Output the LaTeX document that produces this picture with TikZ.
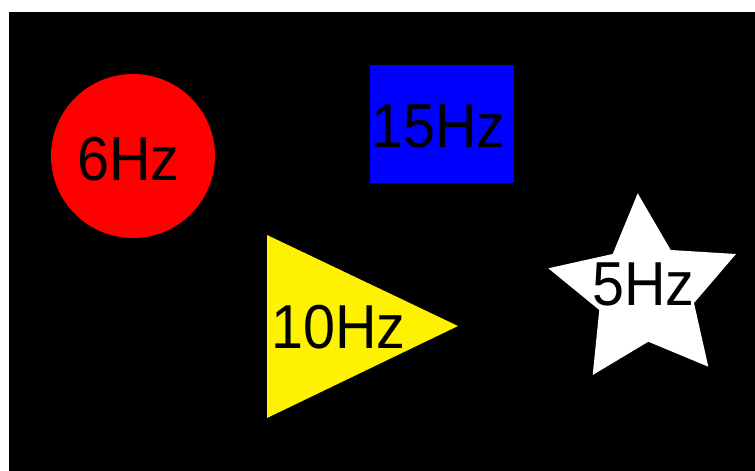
\documentclass[tikz,border=0pt]{standalone}
\usepackage{fontspec}
\setmainfont{Liberation Sans}
\newcommand{\hzlbl}[1]{\scalebox{1}[1.08]{#1}}
\begin{document}
\begin{tikzpicture}[x=1pt,y=-1pt,
  lbl/.style={anchor=base west,inner sep=0pt,font=\fontsize{57.5}{58}\selectfont,text=black}]
\useasboundingbox (0,0) rectangle (755,471);
\fill[white] (0,0) rectangle (755,471);
\fill[black] (9,12) rectangle (755,471);
% circle
\fill[red] (133,156) circle[radius=82];
\node[lbl] (t6) at (77,180) {\hzlbl{6Hz}};
% square
\fill[blue] (370,65) rectangle (514,183);
\node[lbl] (t15) at (371,147) {\hzlbl{15Hz}};
% triangle
\fill[yellow] (267,235) -- (458,326) -- (267,418) -- cycle;
\node[lbl] (t10) at (271,348) {\hzlbl{10Hz}};
% star
\fill[white] (637.7,193.3) -- (670.7,250) -- (736,254) -- (694,303) -- (708.3,366.7)
  -- (648.3,341.7) -- (592.7,375) -- (599.3,310) -- (548.3,268.3) -- (612.7,254) -- cycle;
\node[lbl] (t5) at (592,305) {\hzlbl{5Hz}};
\end{tikzpicture}
\end{document}
